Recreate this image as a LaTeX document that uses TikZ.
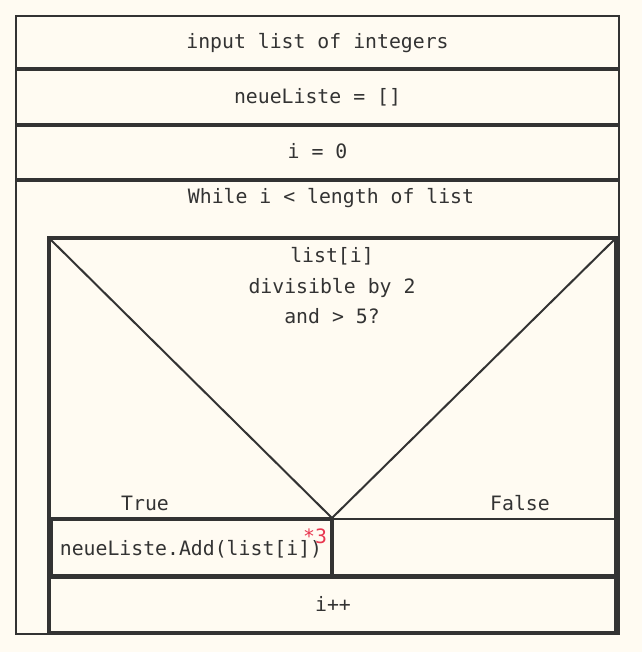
\documentclass[tikz,border=0pt]{standalone}
\usepackage{fontspec}
\setmonofont{DejaVu Sans Mono}
\definecolor{bgc}{HTML}{FFFBF2}
\definecolor{ink}{HTML}{333333}
\definecolor{mark}{HTML}{E8364F}
\begin{document}
\begin{tikzpicture}[x=1pt,y=-1pt,
  txt/.style={font=\ttfamily\fontsize{19.8}{22}\selectfont, text=ink, anchor=base, inner sep=0pt},
  thin/.style={draw=ink, line width=2pt},
  sep/.style={draw=ink, line width=4pt},
  thick/.style={draw=ink, line width=4.5pt}]
\useasboundingbox[fill=bgc] (0,0) rectangle (642,652);
% outer frame
\draw[thin] (16,16) rectangle (619,634);
\draw[sep] (16,69.5) -- (619,69.5);
\draw[sep] (16,125) -- (619,125);
\draw[sep] (16,180) -- (619,180);
% while body
\draw[thick] (49,238) rectangle (616,633);
% decision
\coordinate (tl) at (49,238);
\coordinate (tr) at (616,238);
\coordinate (apex) at (332,518);
\draw[thin] (tl) -- (apex) -- (tr);
\draw[thin] (49,519) -- (616,519);
\draw[draw=ink, line width=3.5pt] (51,519) rectangle (332,576);
\draw[draw=ink, line width=5pt] (49,576) -- (616,576);
% texts
\node[txt] (t1) at (317.5,49) {input list of integers};
\node[txt] (t2) at (317.5,104) {neueListe = []};
\node[txt] (t3) at (317.5,159) {i = 0};
\node[txt] (t4) at (331,204) {While i < length of list};
\node[txt] (c1) at (332,262) {list[i]};
\node[txt] (c2) at (332,293) {divisible by 2};
\node[txt] (c3) at (332,323) {and > 5?};
\node[txt] (tt) at (145,510) {True};
\node[txt] (ff) at (520,510) {False};
\node[txt] (add) at (191,555) {neueListe.Add(list[i])};
\node[txt, text=mark] (m3) at (315,543) {*3};
\node[txt] (inc) at (333,611) {i++};
\end{tikzpicture}
\end{document}
